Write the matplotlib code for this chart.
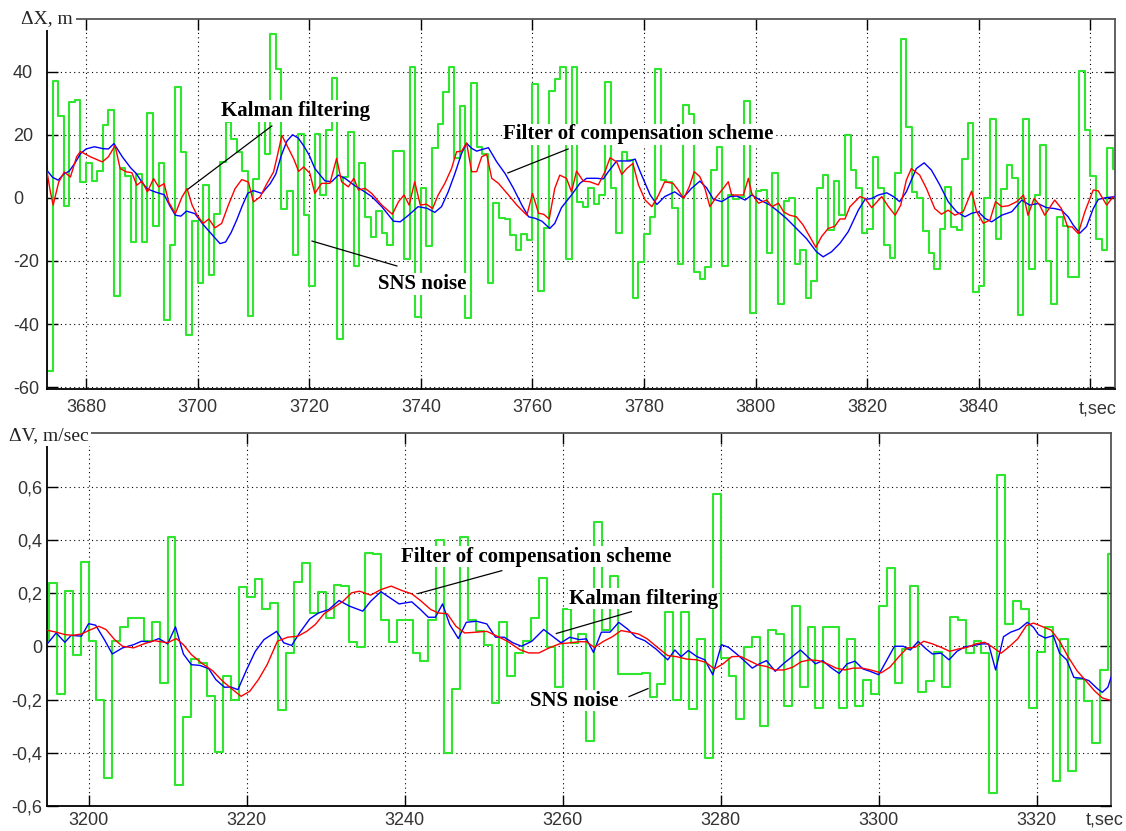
import matplotlib.pyplot as plt
import numpy as np

plt.rcParams['font.family'] = ['Liberation Sans', 'DejaVu Sans']

# ---------------- upper panel: position error dX, m ----------------
dx_noise_start = 3672  # SNS noise, one value per second (zero-order hold)
dx_noise = [
    10, -55, 37, 26, -2.5, 30.5, 31, 5,
    11, 5.5, 8.5, 23, 28, -31, 9.5, 7, -14, 7.5,
    -14, 27, -9, 11, -38.6, -15, 35, 14.5, -43.6, -7.4,
    -27, 4, -24.5, -5, 11.5, 24, 18.7, 14.5, 8.4, -37.5,
    6, 26, 14, 52, 41, -3.4, 2.2, -18, 20.3, -5.3,
    -28, 20.4, 0.9, 21.5, 37.9, -44.6, 6.5, 21, -21.5, 11.2,
    -6.2, -12.3, -4.2, -11.3, -15, 14.8, 15, -19.4, 41.5, -37.7,
    3, -15.3, 15.9, 23.3, 33.4, 41.4, 12.5, 29.2, -38.2, 36.3,
    16, 14, -27, -1.7, -6.5, -6.7, -11.7, -16.5, -11.5, -13.4,
    36, -29.4, -9.6, 34, 37.8, 41.6, -19.4, 41.5, -1.2, -2.8,
    3, -2, 1, 36.8, 3, -11, 14.5, 12, -31.6, -20.3,
    -11.5, -6.2, 40.7, 5.8, 5, -3.3, -21, 29.4, 26.5, -23.4,
    -25.8, -22, 8.8, 16, -21.6, 0.9, -0.5, 0.4, 30.8, -36.4,
    2.3, 2.6, -17.6, 8, -33.7, -1, -0.2, -21, -16.5, -31.6,
    -26.3, 3, 7.2, -10.2, 5.3, -5.5, 19.9, 8.8, 3, -11.3,
    -10, 13, 3.2, -15, -19.2, 8, 50.3, 22.5, 1.9, 0.1,
    -10.6, -17.6, -22.7, -9.8, 3.3, -9.2, -10.2, 12.3, 23.6, -30,
    -27.9, -0.2, 25, -13, 2.7, 10.4, 6.2, -37, 25, -22.7,
    1, 16.8, -20, -33.6, -6, -8.8, -25, -25, 40.3, 21.5,
    6.8, -13, -16.6, 15.9, 9,
]

# Kalman filtering (red), (t, dX)
dx_kalman = [
    (3673, 8.2), (3673.6, 2), (3674.1, -2.3), (3675.1, 5), (3676.1, 8.2), (3677.2, 6.6), (3678.3, 13), (3679, 14.7),
    (3680.8, 13), (3682.9, 11.4), (3684, 13), (3685.2, 16.6), (3686.1, 9.3), (3687.3, 8.2), (3688.2, 8), (3689.1, 4),
    (3690, 5.3), (3691, 1.9), (3692.1, 6.1), (3693, 3.5), (3694, 4.5), (3694.8, -1.3), (3696, -5), (3697.2, 0.3),
    (3698.1, 2.9), (3699, -2.3), (3699.9, -5.5), (3701, -8.1), (3702, -6.7), (3703.1, -9.5), (3704.3, -8.1), (3705.5, -2.3),
    (3706.7, 2.9), (3707.9, 5.8), (3709.1, 5), (3710, -1.3), (3711.2, 0.3), (3712.4, 4.5), (3713.6, 8.2), (3714.3, 13.5),
    (3715.1, 19.8), (3716.3, 15.6), (3717.2, 12.4), (3718.1, 8.4), (3719, 9.8), (3720.1, 7.8), (3721, 1.4), (3722.2, 4.6),
    (3723.7, 4.6), (3724.9, 12.5), (3725.8, 5.1), (3727, 3.5), (3728, 6.2), (3728.8, 2.5), (3730, 3), (3731.2, 1.4),
    (3733, -2.3), (3734.9, -5.2), (3736, -1.2), (3737, 0.9), (3737.9, -2.3), (3738.9, 5.1), (3739.9, -2.3), (3741, -2),
    (3742.1, -3.4), (3743.1, 0.9), (3744.3, 4.6), (3745.5, 9.3), (3746.4, 14.6), (3747.3, 14.8), (3748.2, 17.4), (3749.1, 8.3),
    (3750, 8.3), (3750.9, 13), (3751.8, 13.8), (3752.7, 6.2), (3753.9, 4.6), (3755.7, 0.9), (3757.2, -2.3), (3759, -5.5),
    (3760, 1.4), (3761.1, -4.9), (3762, -5.2), (3763, -6.7), (3764, 3), (3764.9, 7.2), (3766.1, 6.2), (3767, 1.9),
    (3767.9, 8.5), (3769.1, 5.3), (3770.3, 5.1), (3771.8, 4.1), (3773, 8.3), (3773.9, 12.7), (3775.1, 11.4), (3776, 7.4),
    (3776.9, 9.3), (3778, 10.9), (3779, 4.1), (3780.2, -0.7), (3781.4, -2.8), (3782.6, 0.9), (3783.7, 5.1), (3785.2, 4.6),
    (3786.1, 2.5), (3787.1, -0.2), (3788.1, 3.5), (3789, 8.3), (3790, 6.7), (3790.9, 3), (3791.8, -2.8), (3793, 0.4),
    (3794.2, 3), (3795.1, 5.1), (3795.7, 0.9), (3796.6, 0.9), (3797.8, 0.9), (3798.7, 6.2), (3799.3, 1.4), (3800.5, -1.7),
    (3802, -0.7), (3802.9, -2.8), (3804.1, -1.7), (3805, -4.4), (3806.1, -5.5), (3807.3, -6), (3808.5, -8.6), (3809.7, -12.3),
    (3810.8, -15.7), (3811.8, -12.3), (3813, -9.7), (3814.2, -9), (3815.1, -6.7), (3816, -6.7), (3816.9, -2.8), (3818.7, 0.4),
    (3819.6, -0.2), (3820.8, -3.1), (3822.6, 0.4), (3823.8, -2.8), (3825, -5.5), (3826, -2.3), (3827, 5.6), (3827.9, 9.3),
    (3829.4, 7.2), (3830.6, 3), (3832.1, -3.4), (3833.3, -5.2), (3834.5, -3.9), (3835.7, -5.5), (3837.2, -4.4), (3838.7, 2.1),
    (3839.6, -4.4), (3840.8, -8.1), (3842, -7), (3843, -1.2), (3844.1, -2.8), (3845.3, -2.5), (3846.8, -1.2), (3848, 0.9),
    (3848.8, -5.5), (3849.9, -0.2), (3850.9, -2.3), (3851.8, -5.5), (3853.6, -0.7), (3854.8, -3.4), (3855.9, -9.2), (3856.7, -9.2),
    (3857.8, -11.3), (3859, -4.4), (3860.5, 2.5), (3861.4, 2.2), (3862.9, -2.3), (3864.1, 0.4),
]

# filter of compensation scheme (blue), (t, dX)
dx_comp = [
    (3673, 8.7), (3674, 6.5), (3675, 5.6), (3676, 7.5), (3677, 8.5), (3678, 11), (3679, 14), (3680, 15.5),
    (3681.5, 16.2), (3683, 15.6), (3684, 15.5), (3685, 17.2), (3686.5, 13), (3688, 9.5), (3689, 7.7), (3690, 5),
    (3691, 2.8), (3692.5, 1.8), (3694, 1), (3695, -2.5), (3696, -5.5), (3697, -5.8), (3698, -4.2), (3699.5, -5),
    (3701, -8.5), (3702.5, -11.5), (3704, -14.5), (3705, -14), (3706, -11), (3707, -7), (3708, -2.5), (3709, 1.5),
    (3710, 2.3), (3711.5, 1.4), (3713, 4.5), (3714, 7.5), (3715, 13.5), (3716, 18), (3717, 20), (3718, 19),
    (3719, 16.5), (3720, 13.5), (3721, 9.3), (3722.8, 5.4), (3724, 5.1), (3725.2, 7.2), (3726.4, 6.2), (3728.2, 3.8),
    (3729.7, 2.2), (3731.2, 0.4), (3733, -2.8), (3735.1, -7.4), (3736.3, -7.6), (3737.8, -5.5), (3739.5, -2.8), (3741.1, -3.3),
    (3742.5, -4.6), (3743.7, -2.8), (3744.9, 1.9), (3746.1, 7.7), (3747.3, 14.1), (3748.2, 17.3), (3749.1, 15.7), (3750, 14.8),
    (3750.9, 15.3), (3752.1, 15.9), (3753.6, 11.4), (3755.1, 7.7), (3756.6, 3), (3758.1, -2.3), (3759.3, -6), (3760.5, -6.5),
    (3761.7, -7.4), (3763.1, -9.7), (3764, -8.1), (3765.2, -3.1), (3767, 0.9), (3768.5, 4.6), (3769.7, 6.2), (3771.5, 6.2),
    (3772.7, 6), (3773.6, 8.3), (3775.1, 11.7), (3776.3, 11.7), (3777.5, 11.7), (3778.4, 12.3), (3779.3, 8.3), (3781.1, 0.9),
    (3782.3, -2.1), (3783.7, 0.4), (3785.5, 1.9), (3787, 0), (3788.5, 3), (3790, 5.3), (3791.2, 3.2), (3792.4, -0.4),
    (3793.9, -1.2), (3795.4, 0.4), (3796.6, 0.6), (3798.1, -0.7), (3799.3, 0.9), (3800.8, -0.7), (3802.6, -2.3), (3804.1, -4.4),
    (3805.5, -6.5), (3807.3, -9.7), (3809.1, -12.9), (3810.9, -17.1), (3812.1, -18.7), (3813.6, -17.1), (3815.1, -14.4), (3816.6, -10.7),
    (3818.4, -3.9), (3819.6, -0.5), (3820.8, -0.2), (3822, 0.9), (3823.5, 1.6), (3824.7, 0.4), (3825.8, -1.2), (3827, 1.9),
    (3828.8, 9.3), (3830.2, 11.1), (3831.5, 8.8), (3833, 4.1), (3834.5, -1.2), (3836, -4.4), (3837.5, -6), (3838.7, -4.9),
    (3839.9, -4.4), (3841.1, -6.5), (3842.3, -7.6), (3844.1, -5.5), (3845.9, -4.4), (3847.7, -0.7), (3849.1, -2.3), (3850.6, -1.8),
    (3852.1, -3.1), (3853.6, -3.4), (3854.8, -3.9), (3856, -6), (3856.9, -8.6), (3858.1, -11.2), (3859.3, -9.1), (3860.5, -3.4),
    (3861.4, -0.5), (3862.6, 0), (3864.4, 0.4),
]

dx_xticks = [3680, 3700, 3720, 3740, 3760, 3780, 3800, 3820, 3840, 3860]
dx_yticks = [-60, -40, -20, 0, 20, 40]

# ---------------- lower panel: velocity error dV, m/sec ----------------
dv_noise_start = 3194
dv_noise = [
    0.025, 0.237, -0.178, 0.206, -0.034, 0.316,
    0.02, -0.202, -0.495, 0.018, 0.074, 0.108, 0.105, 0.02, 0.092, -0.139,
    0.412, -0.52, -0.266, -0.049, -0.064, -0.187, -0.398, -0.11, -0.2, 0.223,
    0.186, 0.252, 0.14, 0.161, -0.241, -0.025, 0.243, 0.311, 0.125, 0.202,
    0.105, 0.232, 0.228, 0.017, -0.004, 0.349, 0.345, 0.097, 0.017, 0.098,
    0.097, -0.027, -0.055, 0.098, 0.398, -0.4, -0.16, 0.41, 0.098, 0.058,
    0.005, -0.212, 0.093, -0.11, -0.024, 0.02, 0.105, 0.258, -0.002, -0.153,
    0.141, 0.011, 0.046, -0.356, 0.466, 0.06, 0.263, -0.104, -0.104, -0.104,
    -0.1, -0.19, -0.143, 0.13, -0.2, 0.13, -0.234, 0.027, -0.419, 0.571,
    -0.045, -0.11, -0.273, -0.004, 0.036, -0.3, 0.061, 0.046, -0.223, 0.153,
    -0.152, 0.071, -0.232, 0.071, 0.074, -0.233, 0.028, -0.223, -0.127, -0.18,
    0.153, 0.293, -0.139, -0.01, 0.226, -0.173, -0.132, -0.02, -0.154, 0.109,
    0.097, -0.026, 0.021, -0.026, -0.55, 0.645, 0.082, 0.169, 0.14, -0.23,
    -0.023, 0.071, -0.505, 0.028, -0.468, -0.123, -0.207, -0.365, -0.089, 0.347,
]

# Kalman filtering (blue), (t, dV)
dv_kalman = [
    (3194.8, 0.01), (3195.9, 0.05), (3197, 0.015), (3197.8, 0.041), (3199.1, 0.038), (3200, 0.085), (3200.9, 0.079), (3202, 0.025),
    (3203, -0.029), (3204.3, -0.006), (3205.7, 0.006), (3206.7, 0.019), (3207.8, 0.016), (3208.9, 0.029), (3210, 0.009), (3211, 0.073),
    (3212, -0.029), (3213, -0.069), (3214.1, -0.072), (3215.2, -0.084), (3216.1, -0.125), (3217.2, -0.154), (3218, -0.153), (3218.9, -0.163),
    (3220, -0.088), (3221.1, -0.019), (3222.2, 0.025), (3223.8, 0.056), (3224.7, 0.013), (3225.7, 0.003), (3226.7, 0.05), (3228, 0.103),
    (3229.1, 0.125), (3230.4, 0.138), (3231.7, 0.172), (3233, 0.151), (3234.7, 0.132), (3235.7, 0.169), (3237, 0.205), (3238.3, 0.179),
    (3239.3, 0.159), (3240.9, 0.167), (3242, 0.138), (3243, 0.109), (3243.9, 0.109), (3244.8, 0.159), (3245.7, 0.082), (3246.8, 0.029),
    (3247.8, 0.09), (3249.1, 0.094), (3250.4, 0.084), (3251.5, 0.034), (3252.6, 0.034), (3253.7, 0.013), (3254.8, 0), (3256.1, 0.019),
    (3257.6, 0.063), (3258.7, 0.038), (3259.8, 0.013), (3260.9, 0.034), (3262.1, 0.025), (3263, 0.028), (3263.9, -0.023), (3264.9, 0.053),
    (3266, 0.053), (3267.1, 0.09), (3268.2, 0.065), (3269.3, 0.034), (3270.4, 0.021), (3271.8, -0.01), (3273.3, -0.051), (3274.2, -0.014),
    (3275, -0.039), (3275.9, -0.016), (3277, -0.039), (3278, -0.051), (3279, -0.107), (3280.1, 0.006), (3281, -0.004), (3282.1, -0.031),
    (3283.2, -0.06), (3284, -0.082), (3284.9, -0.066), (3285.8, -0.054), (3286.9, -0.094), (3288, -0.064), (3289.1, -0.038), (3290.1, -0.014),
    (3291, -0.039), (3292, -0.066), (3292.9, -0.054), (3293.9, -0.079), (3295, -0.102), (3296, -0.066), (3297, -0.056), (3298, -0.085),
    (3298.9, -0.094), (3300, -0.107), (3301.1, -0.048), (3302, 0), (3303.1, 0), (3304, -0.014), (3305, 0.018), (3306, -0.01),
    (3306.8, -0.029), (3307.9, -0.026), (3308.9, -0.051), (3309.9, -0.019), (3311, -0.001), (3311.9, 0.002), (3313, 0.009), (3313.9, 0.009),
    (3314.8, -0.089), (3315.8, 0.036), (3316.7, 0.053), (3317.8, 0.065), (3318.8, 0.09), (3319.6, 0.071), (3320.2, 0.044), (3321.1, 0.031),
    (3322.1, 0.04), (3322.9, -0.026), (3323.8, -0.051), (3324.7, -0.117), (3325.7, -0.12), (3326.6, -0.129), (3327.7, -0.16), (3328.3, -0.173),
    (3329, -0.154), (3329.4, -0.117),
]

# filter of compensation scheme (red), (t, dV)
dv_comp = [
    (3194.8, 0.06), (3195.9, 0.053), (3197, 0.044), (3198, 0.041), (3199.1, 0.046), (3200, 0.059), (3201.3, 0.075), (3202.2, 0.063),
    (3203.3, 0.025), (3204.3, 0), (3205.7, -0.006), (3207, 0.009), (3208.3, 0.021), (3210, 0.013), (3211.1, 0.029), (3212, 0.006),
    (3213, -0.031), (3214.3, -0.063), (3215.7, -0.092), (3217, -0.132), (3218.5, -0.169), (3219.3, -0.188), (3220.4, -0.169), (3221.5, -0.125),
    (3222.6, -0.069), (3223.9, 0.019), (3225.2, 0.034), (3226.5, 0.038), (3227.6, 0.056), (3228.7, 0.082), (3229.8, 0.122), (3231.1, 0.147),
    (3232.2, 0.169), (3233.3, 0.201), (3234.3, 0.207), (3235.7, 0.192), (3237, 0.213), (3238.3, 0.226), (3239.6, 0.21), (3240.9, 0.197),
    (3242, 0.172), (3243.3, 0.138), (3244.3, 0.125), (3245.4, 0.122), (3246.5, 0.075), (3247.6, 0.05), (3249.1, 0.053), (3250.4, 0.056),
    (3251.7, 0.038), (3253, 0.019), (3254.6, -0.013), (3255.7, -0.025), (3257, -0.025), (3258.3, -0.006), (3259.6, 0.009), (3260.9, 0.013),
    (3262.1, 0.017), (3263, 0.017), (3264, -0.004), (3265.2, 0.019), (3266.3, 0.036), (3267.4, 0.059), (3268.5, 0.053), (3269.6, 0.046),
    (3270.7, 0.028), (3272, -0.004), (3273.3, -0.035), (3274.4, -0.039), (3275.7, -0.048), (3277, -0.051), (3278.1, -0.06), (3279.2, -0.085),
    (3280.3, -0.066), (3281.4, -0.039), (3282.5, -0.038), (3283.6, -0.054), (3284.7, -0.07), (3285.8, -0.076), (3286.9, -0.089), (3288, -0.089),
    (3289.1, -0.079), (3290.2, -0.058), (3291.3, -0.051), (3292.4, -0.054), (3293.5, -0.066), (3294.6, -0.082), (3295.7, -0.089), (3296.8, -0.082),
    (3297.9, -0.082), (3299, -0.089), (3300.3, -0.1), (3301.4, -0.079), (3302.5, -0.041), (3303.6, -0.006), (3304.6, -0.004), (3305.7, 0.019),
    (3306.8, 0.009), (3307.9, -0.004), (3309, -0.019), (3310.1, -0.01), (3311.2, -0.004), (3312.3, 0.009), (3313.4, 0.015), (3314.3, -0.001),
    (3315.5, -0.026), (3316.5, -0.002), (3317.6, 0.028), (3318.7, 0.078), (3319.6, 0.087), (3320.7, 0.074), (3321.8, 0.061), (3322.9, 0.019),
    (3324, -0.041), (3325.1, -0.092), (3326.2, -0.129), (3327.3, -0.167), (3328.3, -0.194), (3329.2, -0.202),
]

dv_xticks = [3200, 3220, 3240, 3260, 3280, 3300, 3320]
dv_yticks = [-0.6, -0.4, -0.2, 0, 0.2, 0.4, 0.6]

GREEN = '#2ee62e'
NOTE_FONT = dict(family=['Liberation Serif', 'DejaVu Serif'], weight='bold', size=15)


def draw_noise(ax, start, values):
    t = np.arange(start, start + len(values) + 1)
    ax.step(t, list(values) + [values[-1]], where='post', color=GREEN, lw=1.5, zorder=2)


def draw_line(ax, pairs, color):
    t, v = zip(*pairs)
    ax.plot(t, v, color=color, lw=1.0, zorder=3)


def style_axes(ax, xticks, xlabels, yticks, ylabels, xpad):
    ax.set_xticks(xticks)
    ax.set_xticklabels(xlabels)
    ax.set_yticks(yticks)
    ax.set_yticklabels(ylabels)
    ax.grid(True, color='black', linestyle=(0, (1, 3)), linewidth=0.8)
    ax.set_axisbelow(True)
    ax.tick_params(direction='in', length=8, width=1, top=True, right=True,
                   labelsize=13, labelcolor='#333333')
    ax.tick_params(axis='x', pad=xpad)
    for side in ['left', 'bottom']:
        ax.spines[side].set_color('black')
        ax.spines[side].set_linewidth(1.3)
    for side in ['top', 'right']:
        ax.spines[side].set_color('#555555')
        ax.spines[side].set_linewidth(1.3)


def note(ax, text, pos, start, end):
    ax.plot([start[0], end[0]], [start[1], end[1]], color='black', lw=0.9, zorder=6)
    ax.text(pos[0], pos[1], text, ha='center', va='center', zorder=7, fontdict=NOTE_FONT,
            bbox=dict(facecolor='white', edgecolor='none', pad=0.5))


fig = plt.figure(figsize=(11.26, 8.31), dpi=100)
ax1 = fig.add_axes([47 / 1126, 1 - 389 / 831, 1068 / 1126, 370 / 831])
ax2 = fig.add_axes([46.7 / 1126, 1 - 806 / 831, 1064.3 / 1126, 372.7 / 831])

# upper panel
draw_noise(ax1, dx_noise_start, dx_noise)
draw_line(ax1, dx_comp, 'blue')
draw_line(ax1, dx_kalman, 'red')
ax1.set_xlim(3673, 3864.4)
ax1.set_ylim(-60.6, 56.7)
style_axes(ax1, dx_xticks, [str(t) for t in dx_xticks[:-1]] + [''],
           dx_yticks, [str(v) for v in dx_yticks], 7)
ax1.tick_params(axis='y', pad=24.5)
plt.setp(ax1.get_yticklabels(), ha='left')

note(ax1, 'Kalman filtering', (3717.6, 27.5), (3713.3, 22.8), (3698.3, 2.8))
note(ax1, 'Filter of compensation scheme', (3778.9, 20.2), (3766.4, 15.5), (3755.6, 7.9))
note(ax1, 'SNS noise', (3740.2, -27.3), (3735.7, -21.6), (3720.5, -13.7))

ax1.text(0, 1, 'ΔX, m', transform=ax1.transAxes, ha='center', va='center', zorder=10,
         family=['Liberation Serif', 'DejaVu Serif'], size=14, color='#222222',
         bbox=dict(facecolor='white', edgecolor='none', pad=2), clip_on=False)
fig.text(1098 / 1126, 1 - 409 / 831, 't,sec', ha='center', va='center', size=13, color='#333333')

# lower panel
draw_noise(ax2, dv_noise_start, dv_noise)
draw_line(ax2, dv_kalman, 'blue')
draw_line(ax2, dv_comp, 'red')
ax2.set_xlim(3194.7, 3329.4)
ax2.set_ylim(-0.6, 0.8)
style_axes(ax2, dv_xticks, [str(t) for t in dv_xticks],
           dv_yticks, [('%g' % v).replace('.', ',') for v in dv_yticks], 4)
ax2.tick_params(axis='y', pad=3)

note(ax2, 'Filter of compensation scheme', (3256.7, 0.337), (3252.3, 0.284), (3241.7, 0.198))
note(ax2, 'Kalman filtering', (3270.2, 0.179), (3268.7, 0.130), (3259.2, 0.048))
note(ax2, 'SNS noise', (3261.4, -0.204), (3268.4, -0.189), (3270.8, -0.159))

ax2.text(0.002, 0.995, 'ΔV, m/sec', transform=ax2.transAxes, ha='center', va='center', zorder=10,
         family=['Liberation Serif', 'DejaVu Serif'], size=14, color='#222222',
         bbox=dict(facecolor='white', edgecolor='none', pad=2), clip_on=False)
fig.text(1105 / 1126, 1 - 820 / 831, 't,sec', ha='center', va='center', size=13, color='#333333')

fig.savefig('out.png', dpi=100)
